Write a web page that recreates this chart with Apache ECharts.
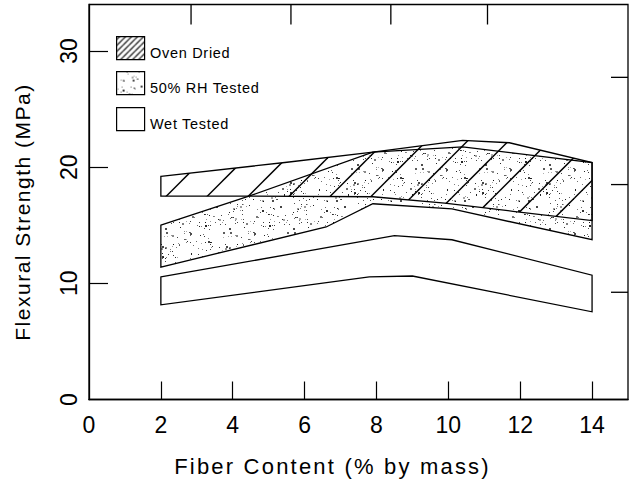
<!DOCTYPE html>
<html>
<head>
<meta charset="utf-8">
<script src="https://cdn.jsdelivr.net/npm/echarts@6/dist/echarts.min.js"></script>
<style>
  html, body { margin: 0; padding: 0; background: #fff; }
  #chart { width: 629px; height: 487px; }
  /* Tracking for the axis titles and legend entries */
  #chart text[style*="22px"] { letter-spacing: 2.2px; }
  #chart text[style*="21px"] { letter-spacing: 1.5px; }
  #chart text[style*="14.5px"] { letter-spacing: 0.7px; }
</style>
</head>
<body>
<div id="chart"></div>
<script>
// Band outlines: fiber content (% by mass) vs flexural strength (MPa)
const ovenUpper = [[2, 19.2], [5.45, 20.4], [7.9, 21.3], [10.4, 22.3], [11.7, 22.1], [14, 20.4]];
const ovenLower = [[2, 17.5], [4.45, 17.5], [7.9, 17.45], [9.9, 16.9], [11.8, 16.2], [14, 15.4]];
const rhUpper   = [[2, 15.0], [4.45, 17.5], [7.9, 21.3], [10.4, 21.75], [14, 20.4]];
const rhLower   = [[2, 11.4], [6.6, 14.85], [7.9, 16.85], [10.1, 16.4], [14, 13.75]];
const wetUpper  = [[2, 10.55], [8.5, 14.1], [10.1, 13.75], [14, 10.7]];
const wetLower  = [[2, 8.15], [7.8, 10.55], [9.0, 10.63], [14, 7.55]];

const seriesNames = ['Oven Dried', '50% RH Tested', 'Wet Tested'];
const xLabelValues = [0, 2, 4, 6, 8, 10, 12, 14];
const xTickValues = [2, 4, 6, 8, 10, 12, 14];
const yLabelValues = [0, 10, 20, 30];
const yTickValues = [10, 20, 30];
// Secondary scale ticks along the top and right edges of the frame
const topTickValues = [2.84, 5.62, 8.4, 11.09];
const rightTickValues = [9.23, 18.5, 27.73];

const X_MAX = 15;
const Y_MAX = 34;
const FONT = '"Liberation Sans", Arial, Helvetica, sans-serif';

// Diagonal hatch tile (45 degree lines)
function makeHatch(size, phase, width) {
  const c = document.createElement('canvas');
  c.width = size; c.height = size;
  const g = c.getContext('2d');
  g.strokeStyle = '#000';
  g.lineWidth = width;
  g.lineCap = 'square';
  for (let k = -2; k <= 3; k++) {
    const s = phase + k * size; // line x + y = s
    g.beginPath();
    g.moveTo(s - size - 2, size + 2);
    g.lineTo(s + 2, -2);
    g.stroke();
  }
  return c;
}

// Stipple tile: scattered small dots from a fixed seed
function makeStipple(size, count) {
  const c = document.createElement('canvas');
  c.width = size; c.height = size;
  const g = c.getContext('2d');
  let seed = 12345;
  const rnd = () => { seed = (seed * 1103515245 + 12345) & 0x7fffffff; return seed / 0x7fffffff; };
  for (let i = 0; i < count; i++) {
    const x = Math.floor(rnd() * size);
    const y = Math.floor(rnd() * size);
    const a = 0.3 + rnd() * 0.6;
    g.fillStyle = 'rgba(0,0,0,' + a.toFixed(2) + ')';
    const s = rnd() < 0.15 ? 2 : 1;
    g.fillRect(x, y, s, s);
  }
  return c;
}

const hatchTile = makeHatch(41, 34.5, 1.5);
const legendHatchTile = makeHatch(6, 3, 1.2);
const stippleTile = makeStipple(64, 170);

const hatchFill = { image: hatchTile, repeat: 'repeat' };
const legendHatchFill = { image: legendHatchTile, repeat: 'repeat' };
const stippleFill = { image: stippleTile, repeat: 'repeat' };

function bandItem(upper, lower, fill) {
  return function (params, api) {
    const pts = [];
    upper.forEach(p => pts.push(api.coord(p)));
    lower.slice().reverse().forEach(p => pts.push(api.coord(p)));
    return {
      type: 'polygon',
      shape: { points: pts },
      style: { fill: fill, stroke: '#000', lineWidth: 1.3, lineJoin: 'miter' }
    };
  };
}

const chart = echarts.init(document.getElementById('chart'), null, { renderer: 'svg' });

const legendBoxes = [
  { top: 36, fill: legendHatchFill, name: seriesNames[0] },
  { top: 71, fill: stippleFill, name: seriesNames[1] },
  { top: 107, fill: '#fff', name: seriesNames[2] }
];

const graphics = [];
legendBoxes.forEach(b => {
  graphics.push({
    type: 'rect', left: 116, top: b.top,
    shape: { width: 28, height: 23 },
    style: { fill: b.fill, stroke: '#000', lineWidth: 1.2 }
  });
  graphics.push({
    type: 'text', left: 150, top: b.top + 9,
    style: { text: b.name, font: '14.5px ' + FONT, fill: '#000' }
  });
});

chart.setOption({
  animation: false,
  backgroundColor: '#fff',
  grid: {
    left: 89, right: 1, top: 4.5, bottom: 87.5,
    show: true, borderColor: '#000', borderWidth: 1.3, backgroundColor: 'transparent'
  },
  xAxis: {
    type: 'value', min: 0, max: X_MAX, interval: 2,
    name: 'Fiber Content (% by mass)', nameLocation: 'middle', nameGap: 56,
    nameTextStyle: { fontFamily: FONT, fontSize: 22, color: '#000', padding: [0, 52, 0, 0] },
    axisLine: { show: true, lineStyle: { color: '#000', width: 1.3 } },
    axisTick: { show: true, inside: true, length: 18, customValues: xTickValues, lineStyle: { color: '#000', width: 1.2 } },
    axisLabel: { customValues: xLabelValues, fontFamily: FONT, fontSize: 23, color: '#000', margin: 14 },
    splitLine: { show: false }
  },
  yAxis: {
    type: 'value', min: 0, max: Y_MAX, interval: 10,
    name: 'Flexural Strength (MPa)', nameLocation: 'middle', nameGap: 56, nameRotate: 90,
    nameTextStyle: { fontFamily: FONT, fontSize: 21, color: '#000', padding: [0, 20, 0, 0] },
    axisLine: { show: true, lineStyle: { color: '#000', width: 1.3 } },
    axisTick: { show: true, inside: true, length: 19, customValues: yTickValues, lineStyle: { color: '#000', width: 1.2 } },
    axisLabel: { customValues: yLabelValues, rotate: 90, fontFamily: FONT, fontSize: 23, color: '#000', margin: 9 },
    splitLine: { show: false }
  },
  series: [
    { type: 'custom', name: seriesNames[1], renderItem: bandItem(rhUpper, rhLower, stippleFill), data: [[0]], z: 2 },
    { type: 'custom', name: seriesNames[0], renderItem: bandItem(ovenUpper, ovenLower, hatchFill), data: [[0]], z: 3 },
    { type: 'custom', name: seriesNames[2], renderItem: bandItem(wetUpper, wetLower, '#fff'), data: [[0]], z: 3 }
  ],
  graphic: graphics
});

// Inward tick marks on the top and right edges, placed through the grid's scales
const edgeTicks = [];
topTickValues.forEach(v => {
  const p = chart.convertToPixel({ gridIndex: 0 }, [v, Y_MAX]);
  edgeTicks.push({
    type: 'line', z: 100,
    shape: { x1: p[0], y1: p[1], x2: p[0], y2: p[1] + 20 },
    style: { stroke: '#000', lineWidth: 1.3 }
  });
});
rightTickValues.forEach(v => {
  const p = chart.convertToPixel({ gridIndex: 0 }, [X_MAX, v]);
  edgeTicks.push({
    type: 'line', z: 100,
    shape: { x1: p[0] - 17, y1: p[1], x2: p[0], y2: p[1] },
    style: { stroke: '#000', lineWidth: 1.3 }
  });
});
chart.setOption({ graphic: graphics.concat(edgeTicks) });
</script>
</body>
</html>
